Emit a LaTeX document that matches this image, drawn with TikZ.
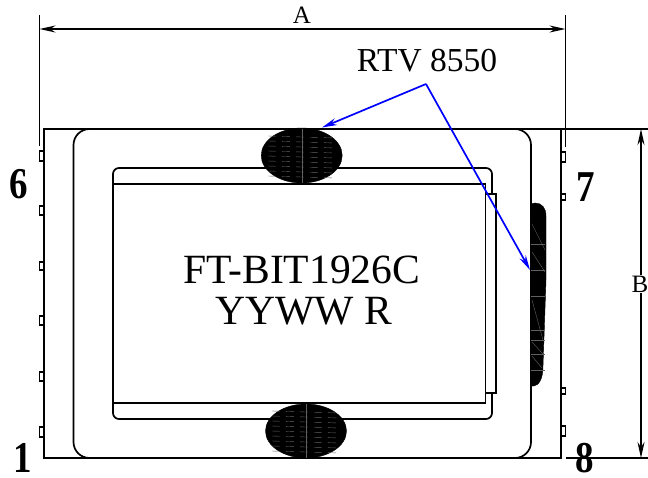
\documentclass[tikz,border=0pt]{standalone}
\usepackage{fontspec}
\usepackage{graphicx}
\setmainfont{Liberation Serif}
\usetikzlibrary{arrows.meta}
\definecolor{hatch}{gray}{0.38}
\newcommand{\pinglyph}[1]{\scalebox{.84}[1]{\bfseries\fontsize{44}{44}\selectfont #1}}
\tikzset{
 x=1pt,y=-1pt,
 part/.style={draw=black,line width=1.7pt},
 dim/.style={draw=black,line width=1.4pt},
 dimarrow/.style={dim,{Stealth[length=16pt,width=7pt]}-{Stealth[length=16pt,width=7pt]}},
 leader/.style={draw=blue,line width=1.7pt},
 leadertip/.style={leader,-{Stealth[length=15pt,width=7pt]}},
 blob/.style={fill=black,draw=black,line width=.4pt},
 hatchline/.style={draw=hatch,line width=.4pt},
 pin/.style={draw=black,line width=1.3pt,fill=white},
 pinnum/.style={inner sep=0pt},
 bigtext/.style={font=\fontsize{41.6}{42}\selectfont,inner sep=0pt},
 dimtext/.style={font=\fontsize{25}{25}\selectfont,inner sep=1pt},
 rtvtext/.style={font=\fontsize{33.5}{34}\selectfont,inner sep=0pt},
}
\begin{document}
\begin{tikzpicture}
\useasboundingbox (0,0) rectangle (648,477);
% outer body
\draw[part] (44,129) rectangle (561,458);
\draw[part,rounded corners=16pt] (120,129) -- (73.5,129) -- (73.5,458) -- (120,458);
\draw[part,rounded corners=16pt] (480,129) -- (531,129) -- (531,458) -- (480,458);
% pins
\foreach \a/\b in {151/161,206/215,262/270,316/325,372/381,427/437}
  \draw[pin] (39.5,\a) rectangle (44,\b);
\foreach \a/\b in {152/162,194/200,388/394,426/436}
  \draw[pin] (561,\a) rectangle (565.5,\b);
% inner package
\draw[part,rounded corners=6pt] (113,168) rectangle (492,419);
\draw[part,fill=white] (485.5,194) rectangle (496,393);
\draw[part,fill=white] (113,184) rectangle (485.5,403);
% glue blobs
\fill[blob] (301.7,155.5) ellipse[x radius=40.5,y radius=27.5];
\fill[blob] (306,431) ellipse[x radius=40.5,y radius=27];
\foreach \y in {136,141,146,151,156,161,166,171,176}
  \draw[hatchline,dash pattern=on 8pt off 6pt] (268,\y) -- (336,\y+2);
\foreach \y in {411,416,421,426,431,436,441,446,451}
  \draw[hatchline,dash pattern=on 8pt off 6pt] (272,\y) -- (340,\y+2);
\draw[hatchline] (301.7,128.5) -- (301.7,183);
\draw[hatchline] (306.5,404) -- (306.5,458);
\fill[blob] (531,204) -- (535,203) .. controls (542,203) and (546,208) .. (546,216)
  -- (546,280) -- (543,366) .. controls (543,379) and (539,385) .. (534,386) -- (531,386) -- cycle;
\foreach \y in {244,270,296,330,340,354,370}
  \draw[hatchline] (531,\y) -- (545,\y);
\draw[hatchline] (532,224) -- (545,250) (532,252) -- (545,272) (532,300) -- (543,340) (532,342) -- (543,354) (532,356) -- (542,368);
% dimensions
\coordinate (la) at (39.5,29); \coordinate (ra) at (565.5,29);
\coordinate (tb) at (641,129); \coordinate (bb) at (641,458);
\draw[dim] (39.5,15) -- (39.5,146);
\draw[dim] (565.5,15) -- (565.5,147);
\draw[dimarrow] (la) -- (ra);
\draw[dim] (561,129) -- (648,129);
\draw[dim] (566,458) -- (648,458);
\draw[dimarrow] (tb) -- (bb);
\node[dimtext] (labA) at (302,15) {A};
\node[dimtext,fill=white] (labB) at (640,284) {B};
% leaders
\coordinate (apex) at (426,84);
\coordinate (t1) at (322,127.5);
\coordinate (t2) at (530,270);
\draw[leadertip] (apex) -- (t1);
\draw[leadertip] (apex) -- (t2);
% texts
\node[rtvtext] (rtv) at (427,61) {RTV 8550};
\node[bigtext] (m1) at (302,270) {FT-BIT1926C};
\node[bigtext] (m2) at (304,311) {YYWW R};
\node[pinnum] (p6) at (19,184) {\pinglyph{6}};
\node[pinnum] (p1) at (23,458) {\pinglyph{1}};
\node[pinnum] (p7) at (586,187) {\pinglyph{7}};
\node[pinnum] (p8) at (585,458) {\pinglyph{8}};
\end{tikzpicture}
\end{document}
